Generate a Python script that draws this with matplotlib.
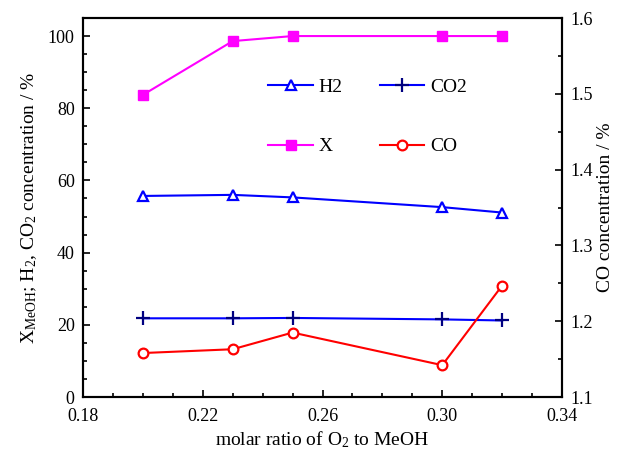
import matplotlib
matplotlib.use("Agg")
import matplotlib.pyplot as plt
from matplotlib.ticker import MultipleLocator

plt.rcParams["font.family"] = ["Liberation Serif", "DejaVu Serif"]
plt.rcParams["mathtext.fontset"] = "custom"
plt.rcParams["mathtext.rm"] = "Liberation Serif"
plt.rcParams["mathtext.it"] = "Liberation Serif:italic"

# --- data ---
ratio = [0.20, 0.23, 0.25, 0.30, 0.32]
x_meoh = [83.7, 98.6, 100.0, 100.0, 100.0]
h2 = [55.7, 56.0, 55.3, 52.6, 51.1]
co2 = [21.8, 21.8, 21.9, 21.5, 21.2]
co = [1.158, 1.163, 1.185, 1.142, 1.247]
xticks = [0.18, 0.22, 0.26, 0.30, 0.34]

fig = plt.figure(figsize=(6.3, 4.55), dpi=100)
ax = fig.add_axes([83 / 630, 58 / 455, 479 / 630, 379 / 455])
ax2 = ax.twinx()

lh2, = ax.plot(ratio, h2, color="#0000ff", lw=1.5, marker="^", ms=7, mfc="white",
               mec="#0000ff", mew=1.6, label="H2")
lx, = ax.plot(ratio, x_meoh, color="#ff00ff", lw=1.5, marker="s", ms=7, label="X")
lco2, = ax.plot(ratio, co2, color="#0000ff", lw=1.5, marker="+", ms=10, mec="#000080",
                mew=1.6, label="CO2")
lco, = ax2.plot(ratio, co, color="#ff0000", lw=1.5, marker="o", ms=7, mfc="white",
                mec="#ff0000", mew=1.6, label="CO")

ax.set_xlim(0.18, 0.34)
ax.set_ylim(0, 105)
ax2.set_ylim(1.1, 1.6)
ax.set_xticks(xticks)
ax.set_xticklabels([f"{v:.2f}" for v in xticks])
ax.xaxis.set_minor_locator(MultipleLocator(0.01))
ax.yaxis.set_major_locator(MultipleLocator(20))
ax.yaxis.set_minor_locator(MultipleLocator(5))
ax2.yaxis.set_major_locator(MultipleLocator(0.1))
ax2.yaxis.set_minor_locator(MultipleLocator(0.05))
ax.yaxis.set_major_formatter(lambda v, p: f"{v:.0f}")
ax2.yaxis.set_major_formatter(lambda v, p: f"{v:.1f}")

for a in (ax, ax2):
    a.tick_params(which="both", direction="in", labelsize=13, width=1.2)
    a.tick_params(which="major", length=5, pad=6)
    a.tick_params(which="minor", length=3)
    for s in a.spines.values():
        s.set_linewidth(1.5)
ax.tick_params(top=False, right=False, which="both")
ax.tick_params(axis="x", which="major", pad=8)
ax2.tick_params(left=False, which="both")

ax.set_xlabel("molar ratio of O$_2$ to MeOH", fontsize=14, labelpad=3)
ax.set_ylabel("X$_{\\mathrm{MeOH}}$; H$_2$, CO$_2$ concentration / %", fontsize=14, labelpad=6)
ax2.set_ylabel("CO concentration / %", fontsize=14, labelpad=3)

ax.legend([lh2, lx, lco2, lco], ["H2", "X", "CO2", "CO"], ncol=2, frameon=False,
          loc="upper left", bbox_to_anchor=(0.35, 0.887), fontsize=14,
          labelspacing=2.15, columnspacing=1.9, handlelength=2.3, handletextpad=0.3)

fig.savefig("out.png", dpi=100)
